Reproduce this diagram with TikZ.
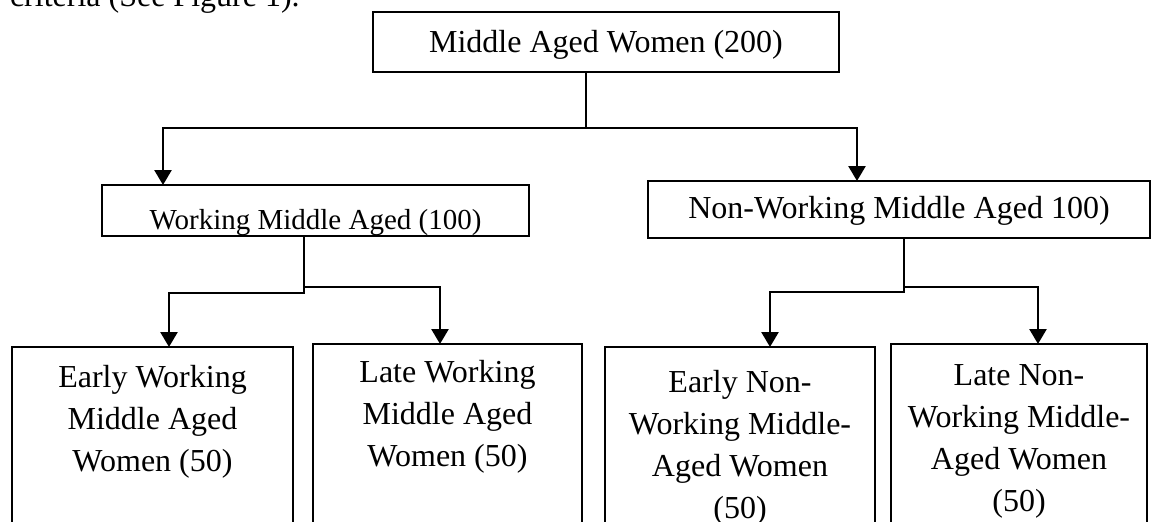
\documentclass[tikz,border=0pt]{standalone}
\usepackage{fontspec}
\setmainfont{Liberation Serif}
\usetikzlibrary{arrows.meta}
\begin{document}
\begin{tikzpicture}[x=1pt,y=-1pt,
  every node/.style={font=\fontsize{32}{42}\selectfont, inner sep=0pt, outer sep=0pt},
  box/.style={draw, line width=1.6pt, rectangle},
  conn/.style={line width=2.6pt},
  arr/.style={conn, -{Triangle[width=17pt,length=15pt]}},
  btext/.style={align=center, anchor=north}
  ]
\useasboundingbox (0,0) rectangle (1152,522);
\clip (0,0) rectangle (1152,522);

\node[anchor=base west] (crit) at (10,6) {criteria (See Figure 1).};

% level 0
\node[box, minimum width=466pt, minimum height=60pt, text height=24pt, text depth=4pt] (top) at (606,42) {Middle Aged Women (200)};

% level 1
\node[box, minimum width=427pt, minimum height=51pt, font=\fontsize{29}{35}\selectfont, text height=39pt, text depth=2pt] (wm) at (315.5,210.5) {Working Middle Aged (100)};
\node[box, minimum width=502pt, minimum height=57pt, text height=23pt, text depth=6pt] (nw) at (899,209.5) {Non-Working Middle Aged 100)};

% level 2 boxes
\node[box, anchor=north west, minimum width=281pt, minimum height=200pt] (b1) at (12,347) {};
\node[box, anchor=north west, minimum width=269pt, minimum height=200pt] (b2) at (313,344) {};
\node[box, anchor=north west, minimum width=270pt, minimum height=200pt] (b3) at (605,347) {};
\node[box, anchor=north west, minimum width=256pt, minimum height=200pt] (b4) at (891,344) {};

\node[btext] (t1) at (152.5,365) {Early Working\\Middle Aged\\Women (50)};
\node[btext] (t2) at (447.5,360) {Late Working\\Middle Aged\\Women (50)};
\node[btext] (t3) at (740,370) {Early Non-\\Working Middle-\\Aged Women\\(50)};
\node[btext] (t4) at (1019,365) {Late Non-\\Working Middle-\\Aged Women\\(50)};

% connectors level 0 -> 1
\coordinate (j0) at (586,128);
\coordinate (jl) at (163,128);
\coordinate (jr) at (857,128);
\draw[conn] (j0 |- top.south) -- (j0);
\draw[conn, {Triangle[width=17pt,length=15pt]}-{Triangle[width=17pt,length=15pt]}]
  (jl |- wm.north) -- (jl) -- (jr) -- (jr |- nw.north);

% connectors working -> level 2
\coordinate (w0) at (304,293);
\coordinate (wl) at (169,293);
\coordinate (wr0) at (304,287);
\coordinate (wr) at (440,287);
\draw[arr] (w0 |- wm.south) -- (w0) -- (wl) -- (wl |- b1.north);
\draw[arr] (wr0) -- (wr) -- (wr |- b2.north);

% connectors non-working -> level 2
\coordinate (n0) at (904,292);
\coordinate (nl) at (770,292);
\coordinate (nr0) at (904,287);
\coordinate (nr) at (1038,287);
\draw[arr] (n0 |- nw.south) -- (n0) -- (nl) -- (nl |- b3.north);
\draw[arr] (nr0) -- (nr) -- (nr |- b4.north);
\end{tikzpicture}
\end{document}
